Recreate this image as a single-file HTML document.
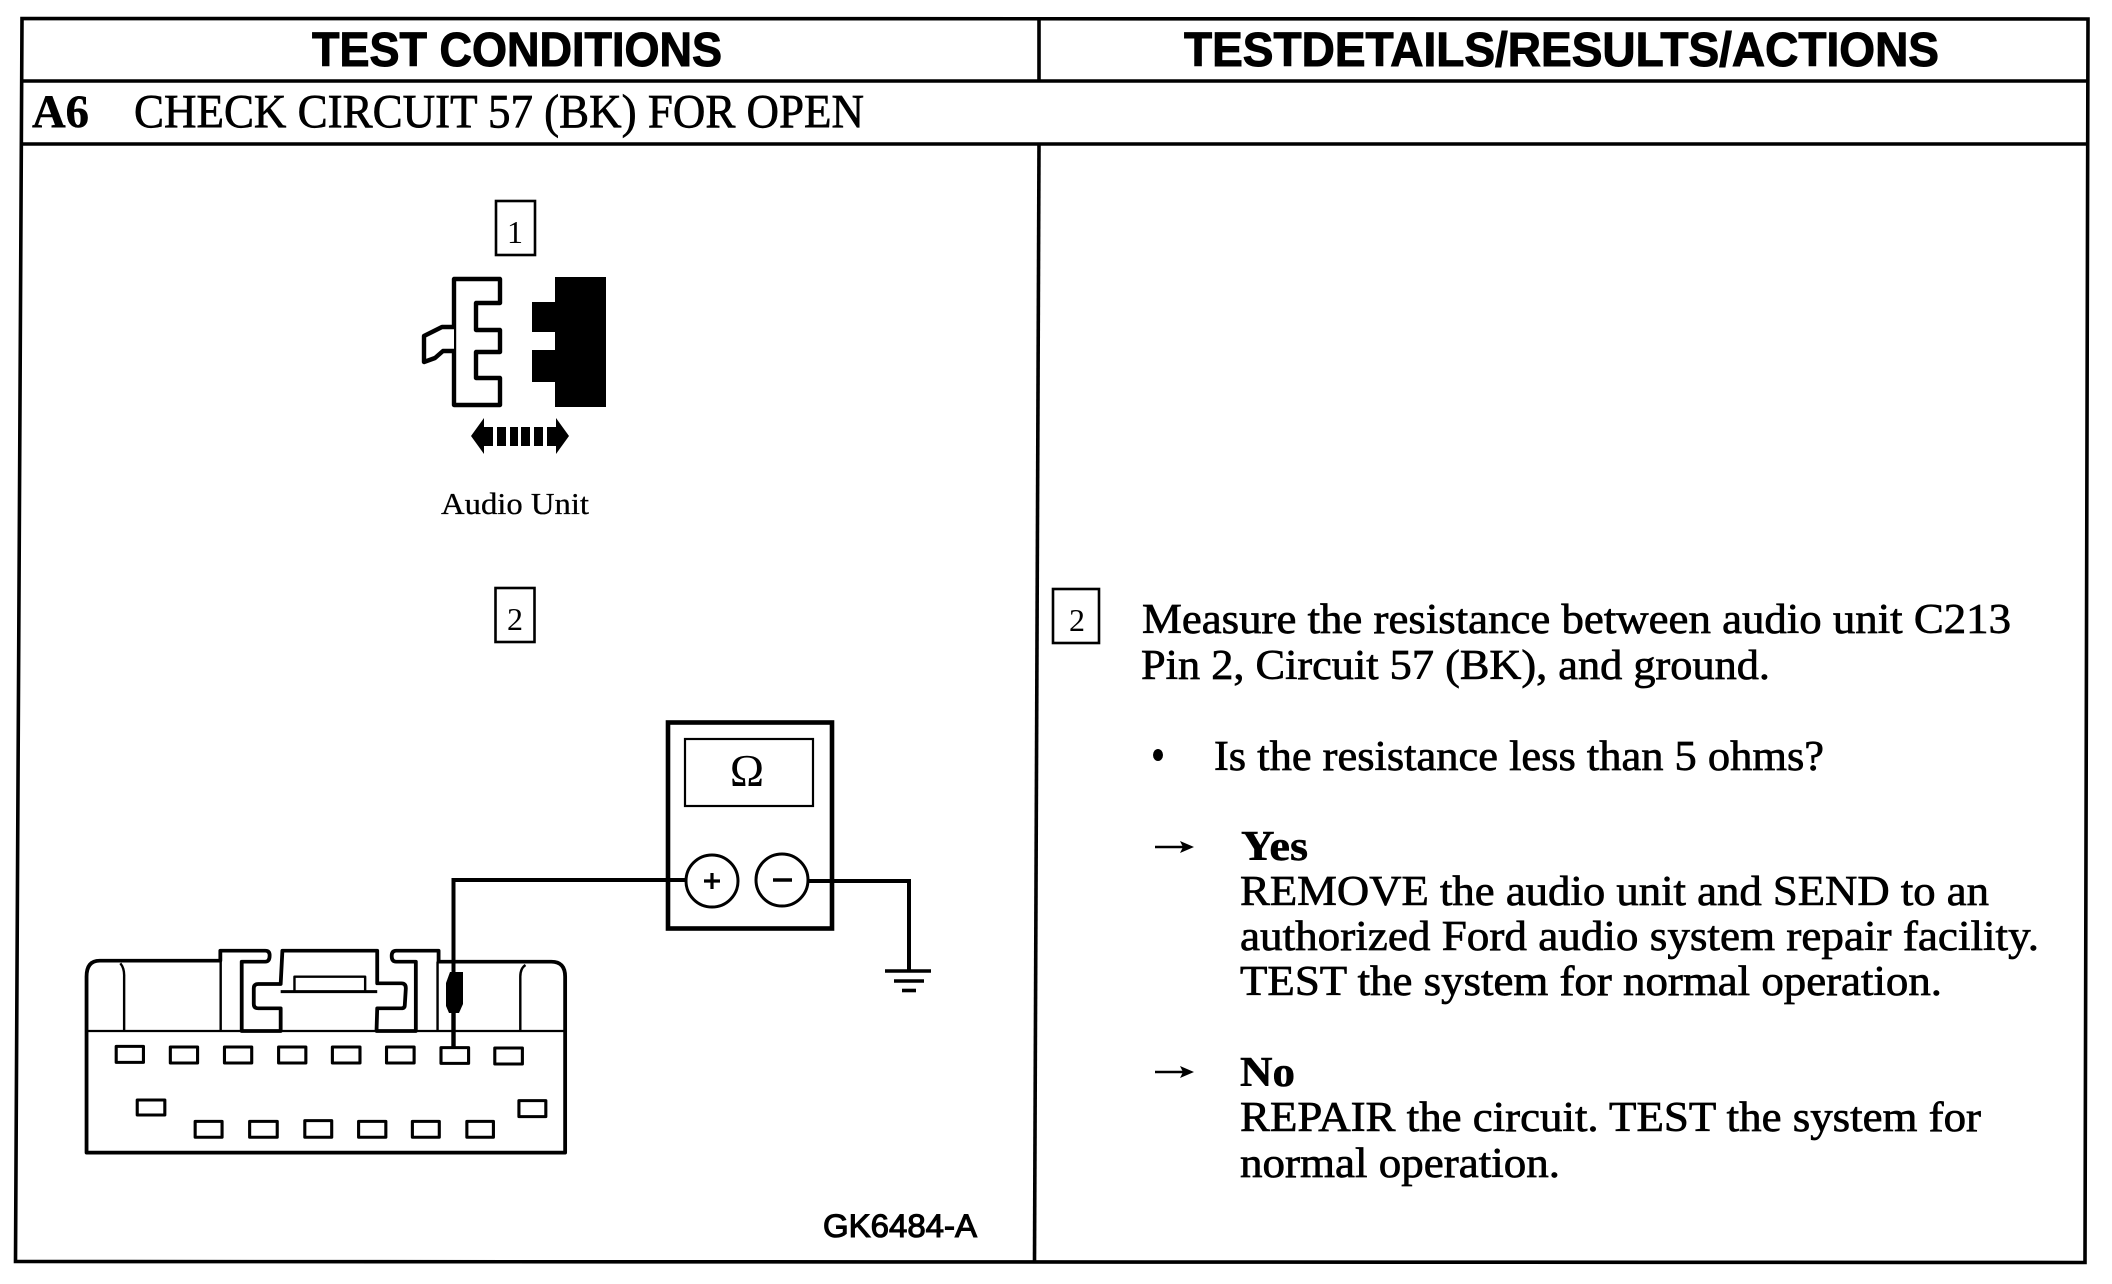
<!DOCTYPE html>
<html>
<head>
<meta charset="utf-8">
<style>
html,body{margin:0;padding:0;background:#fff;width:2112px;height:1284px;overflow:hidden}
svg{display:block}
text{fill:#000;font-family:"Liberation Serif",serif;font-size:42px}
.s{font-family:"Liberation Sans",sans-serif;font-weight:bold;font-size:48px;stroke:#000;stroke-width:1px}
.t{stroke:#000;stroke-width:.7px}
.b{font-weight:bold;stroke:#000;stroke-width:.5px}
</style>
</head>
<body>
<svg width="2112" height="1284" viewBox="0 0 2112 1284" xmlns="http://www.w3.org/2000/svg">
<rect width="2112" height="1284" fill="#fff"/>
<!-- table -->
<g stroke="#000" stroke-width="3.6" fill="none">
<path d="M22 18.5L2088 19L2085 1262.5L15.5 1261.5Z"/>
<path d="M21.5 81H2087.5"/>
<path d="M21.5 144H2087.5"/>
<path d="M1039 18V81"/>
<path d="M1039 144L1034.5 1262"/>
</g>
<text class="s" x="312" y="66" textLength="410" lengthAdjust="spacingAndGlyphs">TEST CONDITIONS</text>
<text class="s" x="1184" y="66" textLength="755" lengthAdjust="spacingAndGlyphs">TESTDETAILS/RESULTS/ACTIONS</text>
<text class="b" x="32" y="127" style="font-size:47px" textLength="57" lengthAdjust="spacingAndGlyphs">A6</text>
<text class="t" x="134" y="127.500" style="font-size:48px" textLength="730" lengthAdjust="spacingAndGlyphs">CHECK CIRCUIT 57 (BK) FOR OPEN</text>

<!-- step boxes -->
<g stroke="#000" stroke-width="2.6" fill="none">
<rect x="496" y="201" width="39" height="54"/>
<rect x="495.500" y="588" width="39" height="54"/>
<rect x="1053" y="589" width="46" height="54"/>
</g>
<text x="515" y="243" text-anchor="middle" style="font-size:32px">1</text>
<text x="515" y="630" text-anchor="middle" style="font-size:32px">2</text>
<text x="1077" y="631" text-anchor="middle" style="font-size:32px">2</text>

<!-- connector icon -->
<g fill="none" stroke="#000" stroke-width="4.4" stroke-linejoin="round">
<path d="M454 279H500V303H476V330H500V352H476V378H500V405H454Z" fill="#fff"/>
<path d="M454 327H442L424 336V362L435 358L443 351H454" fill="#fff"/>
</g>
<path d="M555 277H606V407H555V382H532V350H555V332H532V302H555Z" fill="#000"/>
<path d="M471 436L484 418V454Z M484 427H493V446H484Z" fill="#000"/>
<path d="M569 436L556 418V454Z M547 427H556V446H547Z" fill="#000"/>
<g fill="#000">
<rect x="497" y="427" width="9" height="19"/>
<rect x="510" y="427" width="8" height="19"/>
<rect x="521" y="427" width="9" height="19"/>
<rect x="534" y="427" width="9" height="19"/>
</g>
<text class="t" x="441" y="514" style="font-size:31px;stroke-width:.3px" textLength="148" lengthAdjust="spacingAndGlyphs">Audio Unit</text>

<!-- meter -->
<g fill="none" stroke="#000">
<rect x="668" y="722.500" width="164" height="206" stroke-width="4.6"/>
<rect x="685" y="739" width="128" height="67" stroke-width="2.2"/>
<path d="M453.5 1047V880H686" stroke-width="4"/>
<path d="M808 881H909V971" stroke-width="4"/>
<ellipse cx="712" cy="881" rx="26" ry="26" stroke-width="3" fill="#fff"/>
<ellipse cx="782" cy="880" rx="26" ry="26" stroke-width="3" fill="#fff"/>
<path d="M704 881H720M712 873V889" stroke-width="3.2"/>
<path d="M773 880H792" stroke-width="3.6"/>
<path d="M885 971H931" stroke-width="3.6"/>
<path d="M894 981H924" stroke-width="3.6"/>
<path d="M902 990.5H916" stroke-width="3.6"/>
</g>
<text x="747" y="786" text-anchor="middle" style="font-size:46px">Ω</text>

<!-- connector -->
<g transform="translate(60 920) scale(.3448 .3333)" fill="none" stroke="#000" stroke-linejoin="round">
<path stroke-width="11" d="M77 333V170Q77 122 115 122H465V92H595Q608 92 608 106Q608 125 595 125H527V333H640V265H575Q562 265 562 252V205Q562 192 575 192H640L645 92H920V190H990Q1003 190 1003 205L1000 255Q1000 265 990 265H920L918 333H1032V125H975Q962 125 962 108Q962 92 975 92H1098V125H1425Q1465 125 1465 170V698H77V333"/>
<path stroke-width="7" d="M77 333H1465"/>
<path stroke-width="7" d="M175 130Q187 145 186 170V333M466 122V333M1095 125V333M1335 333V170Q1335 145 1350 135"/>
<path stroke-width="7" d="M680 212V170H885V212"/>
<path stroke-width="9" d="M640 215H920"/>
<g stroke-width="9" fill="#fff">
<rect x="163" y="379" width="79" height="48"/>
<rect x="320" y="381" width="79" height="48"/>
<rect x="477" y="381" width="79" height="48"/>
<rect x="634" y="381" width="79" height="48"/>
<rect x="790" y="381" width="80" height="48"/>
<rect x="947" y="381" width="80" height="48"/>
<rect x="1105" y="383" width="80" height="47"/>
<rect x="1261" y="384" width="80" height="48"/>
<rect x="224" y="540" width="80" height="45"/>
<rect x="1331" y="542" width="78" height="48"/>
<rect x="392" y="604" width="78" height="48"/>
<rect x="550" y="604" width="80" height="48"/>
<rect x="710" y="602" width="78" height="50"/>
<rect x="866" y="604" width="79" height="48"/>
<rect x="1022" y="604" width="78" height="48"/>
<rect x="1180" y="604" width="77" height="48"/>
</g>
</g>
<path d="M453.5 1010V1048" stroke="#000" stroke-width="4.4" fill="none"/>
<path d="M450 972H463V1004L459 1013H449L446 1006V983Z" fill="#000"/>

<text x="823" y="1237" style="font-family:'Liberation Sans',sans-serif;font-size:32px;stroke:#000;stroke-width:1.1px" textLength="154" lengthAdjust="spacingAndGlyphs">GK6484-A</text>

<!-- right column -->
<g>
<text class="t" x="1142" y="633" textLength="869" lengthAdjust="spacingAndGlyphs">Measure the resistance between audio unit C213</text>
<text class="t" x="1141" y="679" textLength="629" lengthAdjust="spacingAndGlyphs">Pin 2, Circuit 57 (BK), and ground.</text>
<ellipse cx="1158" cy="755" rx="5" ry="6" fill="#000"/>
<text class="t" x="1214" y="770" textLength="610" lengthAdjust="spacingAndGlyphs">Is the resistance less than 5 ohms?</text>
<path d="M1155 847H1184" stroke="#000" stroke-width="2.6"/>
<path d="M1194 847L1180 841L1183 847L1180 853Z" fill="#000"/>
<text class="b" x="1241" y="860" textLength="67" lengthAdjust="spacingAndGlyphs">Yes</text>
<text class="t" x="1240" y="905" textLength="749" lengthAdjust="spacingAndGlyphs">REMOVE the audio unit and SEND to an</text>
<text class="t" x="1240" y="950" textLength="799" lengthAdjust="spacingAndGlyphs">authorized Ford audio system repair facility.</text>
<text class="t" x="1240" y="995" textLength="702" lengthAdjust="spacingAndGlyphs">TEST the system for normal operation.</text>
<path d="M1155 1072H1184" stroke="#000" stroke-width="2.6"/>
<path d="M1194 1072L1180 1066L1183 1072L1180 1078Z" fill="#000"/>
<text class="b" x="1240" y="1086" textLength="55" lengthAdjust="spacingAndGlyphs">No</text>
<text class="t" x="1240" y="1131" textLength="741" lengthAdjust="spacingAndGlyphs">REPAIR the circuit. TEST the system for</text>
<text class="t" x="1240" y="1177" textLength="320" lengthAdjust="spacingAndGlyphs">normal operation.</text>
</g>
</svg>
</body>
</html>
